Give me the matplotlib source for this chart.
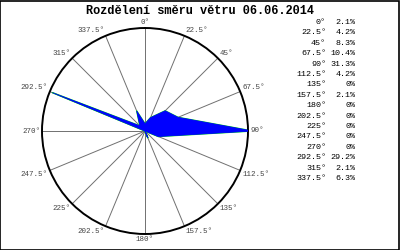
import numpy as np
import matplotlib
matplotlib.use('Agg')
import matplotlib.pyplot as plt
from matplotlib.patches import Rectangle

# wind direction distribution (degrees, percent)
directions = [0, 22.5, 45, 67.5, 90, 112.5, 135, 157.5,
              180, 202.5, 225, 247.5, 270, 292.5, 315, 337.5]
percent = [2.1, 4.2, 8.3, 10.4, 31.3, 4.2, 0, 2.1,
           0, 0, 0, 0, 0, 29.2, 2.1, 6.3]
title = 'Rozdělení směru větru 06.06.2014'
rmax = 30.0

mono = 'Liberation Mono'

fig = plt.figure(figsize=(4, 2.5), dpi=100)
fig.patch.set_facecolor('white')

ax = fig.add_axes([0.105, 0.064, 0.515, 0.824], projection='polar')
ax.set_theta_zero_location('N')
ax.set_theta_direction(-1)
ax.set_ylim(0, rmax)
ax.set_xticks([])
ax.set_yticks([])
ax.grid(False)
ax.spines['polar'].set_color('black')
ax.spines['polar'].set_linewidth(1.4)

theta = np.deg2rad(directions)
for t in theta:
    ax.plot([t, t], [0, rmax], color='#707070', lw=0.7, zorder=1)

# closed polygon
tt = np.append(theta, theta[0])
rr = np.append(percent, percent[0])
ax.plot(tt, rr, color='#00ee00', lw=1.0, zorder=2)
ax.fill(tt, rr, facecolor='#0000ff', edgecolor='#0000ff', lw=0.6, zorder=3)

# direction labels round the circle
for d, t in zip(directions, theta):
    if d == 0:
        ha, va = 'center', 'bottom'
    elif d < 90:
        ha, va = 'left', 'bottom'
    elif d == 90:
        ha, va = 'left', 'center'
    elif d < 180:
        ha, va = 'left', 'top'
    elif d == 180:
        ha, va = 'center', 'top'
    elif d < 270:
        ha, va = 'right', 'top'
    elif d == 270:
        ha, va = 'right', 'center'
    else:
        ha, va = 'right', 'bottom'
    lab = '%g°' % d
    ax.text(t, rmax * 1.02, lab, ha=ha, va=va, fontsize=5.4,
            family=mono, color='#444444', clip_on=False)

fig.text(0.5, 0.958, title, ha='center', va='center', fontsize=8.6,
         family=mono, fontweight='bold')

# table on the right
y0 = 0.91
step = 0.0416
for i, (d, p) in enumerate(zip(directions, percent)):
    y = y0 - i * step
    fig.text(0.815, y, '%g°' % d, ha='right', va='center', fontsize=6,
             family=mono, color='black')
    fig.text(0.888, y, '%g%%' % p, ha='right', va='center', fontsize=6,
             family=mono, color='black')

# frame round the picture
fig.patches.append(Rectangle((0.001, 0.002), 0.996, 0.995, transform=fig.transFigure,
                             fill=False, edgecolor='black', lw=1.2))

fig.savefig('out.png', dpi=100)
